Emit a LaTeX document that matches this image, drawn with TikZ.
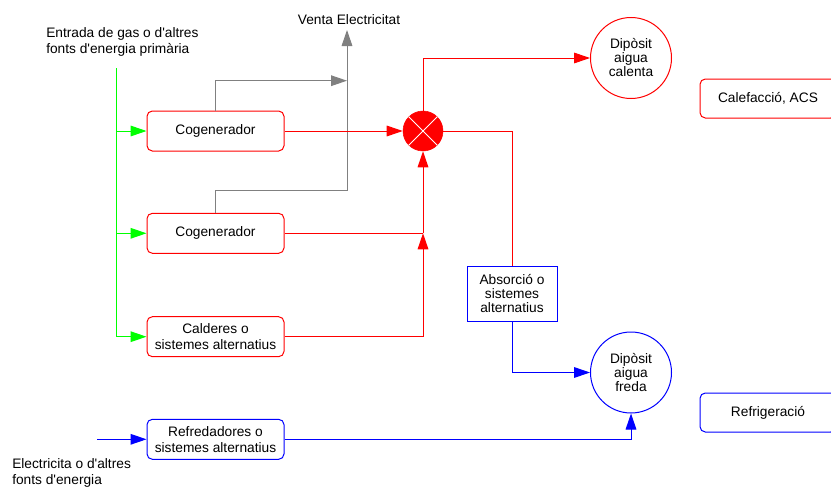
\documentclass[tikz,border=0pt]{standalone}
\usepackage{fontspec}
\setmainfont{Liberation Sans}
\usetikzlibrary{arrows.meta,positioning}

\tikzset{
  txt/.style={font=\fontsize{10.3}{12}\selectfont},
  unit/.style={txt, draw, line width=0.75pt, rounded corners=4pt, minimum width=102.75pt,
    minimum height=30pt, align=center, inner sep=1pt},
  hotbox/.style={unit, draw=red},
  coldbox/.style={unit, draw=blue},
  tank/.style={font=\fontsize{10.3}{10.5}\selectfont, draw, circle, line width=0.75pt,
    minimum size=60.75pt, align=center, inner sep=0pt},
  mixer/.style={circle, draw=red, fill=red, minimum size=30pt, inner sep=0pt},
  flow/.style={-{Triangle[length=12pt,width=8pt]}, line width=0.75pt},
  hot/.style={flow, red},
  cold/.style={flow, blue},
  gas/.style={flow, green},
  elec/.style={flow, gray}
}

\begin{document}
\begin{tikzpicture}[x=0.75pt, y=-0.75pt]
  \clip (0,0) rectangle (831,489);

  % Labels
  \node[txt, align=left, inner sep=0pt, anchor=north west] (gaslbl) at (46,27)
    {Entrada de gas o d\textquotesingle altres\\fonts d\textquotesingle energia primària};
  \node[txt, align=left, inner sep=0pt, anchor=north west] (eleclbl) at (12,458)
    {Electricita o d\textquotesingle altres\\fonts d\textquotesingle energia};
  \node[txt, inner sep=0pt, anchor=base] (venta) at (349,24) {Venta Electricitat};

  % Generation units
  \node[hotbox] (cog1) at (215.5,131) {Cogenerador};
  \node[hotbox] (cog2) at (215.5,233.3) {Cogenerador};
  \node[hotbox] (cald) at (215.5,336.7) {Calderes o\\sistemes alternatius};
  \node[coldbox] (refr) at (215.5,439.3) {Refredadores o\\sistemes alternatius};
  \node[txt, draw=blue, line width=0.75pt, align=center, minimum width=67.5pt,
    minimum height=41.25pt, inner sep=1pt, font=\fontsize{10.3}{10.5}\selectfont]
    (absor) at (512,293.5) {Absorció o\\sistemes\\alternatius};

  % Tanks and uses
  \node[mixer] (mix) at (423,131) {};
  \draw[white, line width=0.6pt] (mix.north west) -- (mix.south east);
  \draw[white, line width=0.6pt] (mix.north east) -- (mix.south west);
  \node[tank, draw=red] (hottank) at (631,58) {Dipòsit\\aigua\\calenta};
  \node[tank, draw=blue] (coldtank) at (631,372.5) {Dipòsit\\aigua\\freda};
  \node[unit, draw=red, minimum width=102pt, minimum height=29.25pt] (calef) at (768,98.5) {Calefacció, ACS};
  \node[unit, draw=blue, minimum width=102pt, minimum height=29.25pt] (refrig) at (768,412.5) {Refrigeració};

  % Free ends
  \coordinate (gasin) at (116.7,68);
  \coordinate (elecin) at (97,439.3);
  \coordinate (sellmid) at (347,80.7);
  \coordinate (selllow) at (347,190.7);
  \coordinate (selltop) at (347,30);
  \coordinate (join) at (423,233.3);

  % Gas supply
  \draw[green, line width=0.75pt] (gasin) -- (gasin |- cald);
  \draw[gas] (gasin |- cog1) -- (cog1.west);
  \draw[gas] (gasin |- cog2) -- (cog2.west);
  \draw[gas] (gasin |- cald) -- (cald.west);

  % Electricity sold
  \draw[elec] (cog1.north) |- (sellmid);
  \draw[elec] (cog2.north) |- (selllow) -- (selltop);

  % Heat
  \draw[hot] (cog1.east) -- (mix.west);
  \draw[red, line width=0.75pt] (cog2.east) -- (join);
  \draw[hot] (cald.east) -| (join);
  \draw[hot] (join) -- (mix.south);
  \draw[hot] (mix.north) |- (hottank.west);
  \draw[red, line width=0.75pt] (mix.east) -| (absor.north);

  % Cold
  \draw[cold] (absor.south) |- (coldtank.west);
  \draw[cold] (elecin) -- (refr.west);
  \draw[cold] (refr.east) -| (coldtank.south);
\end{tikzpicture}
\end{document}
